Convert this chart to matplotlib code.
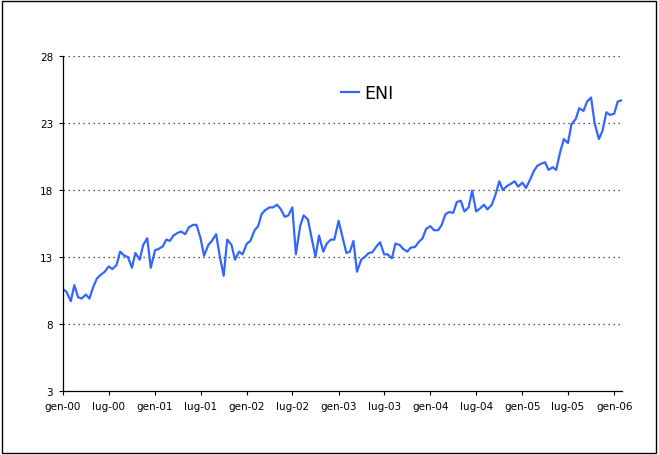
import matplotlib
matplotlib.use("Agg")
import matplotlib.pyplot as plt
import matplotlib.dates as mdates
from matplotlib.patches import Rectangle
import pandas as pd

# ENI share price, semi-monthly readings (1st / 15th of each month), Jan 2000 - Feb 2006
eni_values = [
    10.6, 10.4, 9.7, 10.9, 10.0, 9.9, 10.2, 9.9, 10.8, 11.4,
    11.7, 11.9, 12.3, 12.1, 12.4, 13.4, 13.1, 13.0, 12.2, 13.3,
    12.8, 13.9, 14.4, 12.2, 13.5, 13.6, 13.8, 14.3, 14.2, 14.6,
    14.8, 14.9, 14.7, 15.2, 15.4, 15.4, 14.4, 13.1, 13.9, 14.2,
    14.7, 13.1, 11.6, 14.3, 13.9, 12.8, 13.4, 13.2, 14.0, 14.2,
    15.0, 15.3, 16.2, 16.5, 16.7, 16.7, 16.9, 16.6, 16.0, 16.1,
    16.7, 13.2, 15.3, 16.1, 15.8, 14.5, 13.0, 14.6, 13.4, 14.0,
    14.3, 14.3, 15.7, 14.6, 13.3, 13.4, 14.2, 11.9, 12.8, 13.0,
    13.3, 13.35, 13.8, 14.1, 13.2, 13.2, 12.9, 14.0, 13.9, 13.6,
    13.4, 13.7, 13.75, 14.1, 14.4, 15.1, 15.3, 15.0, 15.0, 15.4,
    16.2, 16.35, 16.3, 17.1, 17.2, 16.4, 16.7, 17.95, 16.4, 16.6,
    16.9, 16.55, 16.9, 17.6, 18.65, 18.0, 18.3, 18.45, 18.65, 18.25,
    18.55, 18.15, 18.8, 19.4, 19.8, 19.95, 20.07, 19.5, 19.7, 19.5,
    20.9, 21.8, 21.5, 22.9, 23.3, 24.1, 23.9, 24.6, 24.9, 23.0,
    21.8, 22.4, 23.8, 23.6, 23.7, 24.6, 24.7,
]
dates = pd.date_range("2000-01-01", periods=len(eni_values), freq="SMS")

y_ticks = [3, 8, 13, 18, 23, 28]
x_tick_labels = ["gen-00", "lug-00", "gen-01", "lug-01", "gen-02", "lug-02",
                 "gen-03", "lug-03", "gen-04", "lug-04", "gen-05", "lug-05", "gen-06"]
x_tick_dates = pd.date_range("2000-01-01", periods=len(x_tick_labels), freq="6MS")

fig = plt.figure(figsize=(6.59, 4.56), dpi=100)
ax = fig.add_axes([63 / 659, 1 - 392 / 456, (622 - 63) / 659, (392 - 57) / 456])

ax.plot(dates, eni_values, color="#3366FF", lw=1.6, label="ENI")

ax.set_ylim(3, 28)
ax.set_yticks(y_ticks)
ax.set_yticklabels([str(v) for v in y_ticks], fontsize=7.5)
ax.set_xlim(pd.Timestamp("2000-01-01"), pd.Timestamp("2006-02-01"))
ax.set_xticks(x_tick_dates)
ax.set_xticklabels(x_tick_labels, fontsize=7.5)
ax.tick_params(axis="both", direction="out", length=3, width=0.8, pad=4)

for v in y_ticks[1:]:
    ax.axhline(v, color="#222222", lw=0.9, ls=(0, (1, 3)), zorder=0)

for s in ["top", "right"]:
    ax.spines[s].set_visible(False)
for s in ["left", "bottom"]:
    ax.spines[s].set_color("black")
    ax.spines[s].set_linewidth(0.9)

leg = ax.legend(loc="center left", bbox_to_anchor=(0.485, 0.89), frameon=False,
                fontsize=12.5, handlelength=1.05, handletextpad=0.3, borderaxespad=0)

fig.patches.append(Rectangle((0.003, 0.004), 0.993, 0.992, transform=fig.transFigure,
                             fill=False, edgecolor="black", lw=1.0))

fig.savefig("out.png", dpi=100)
